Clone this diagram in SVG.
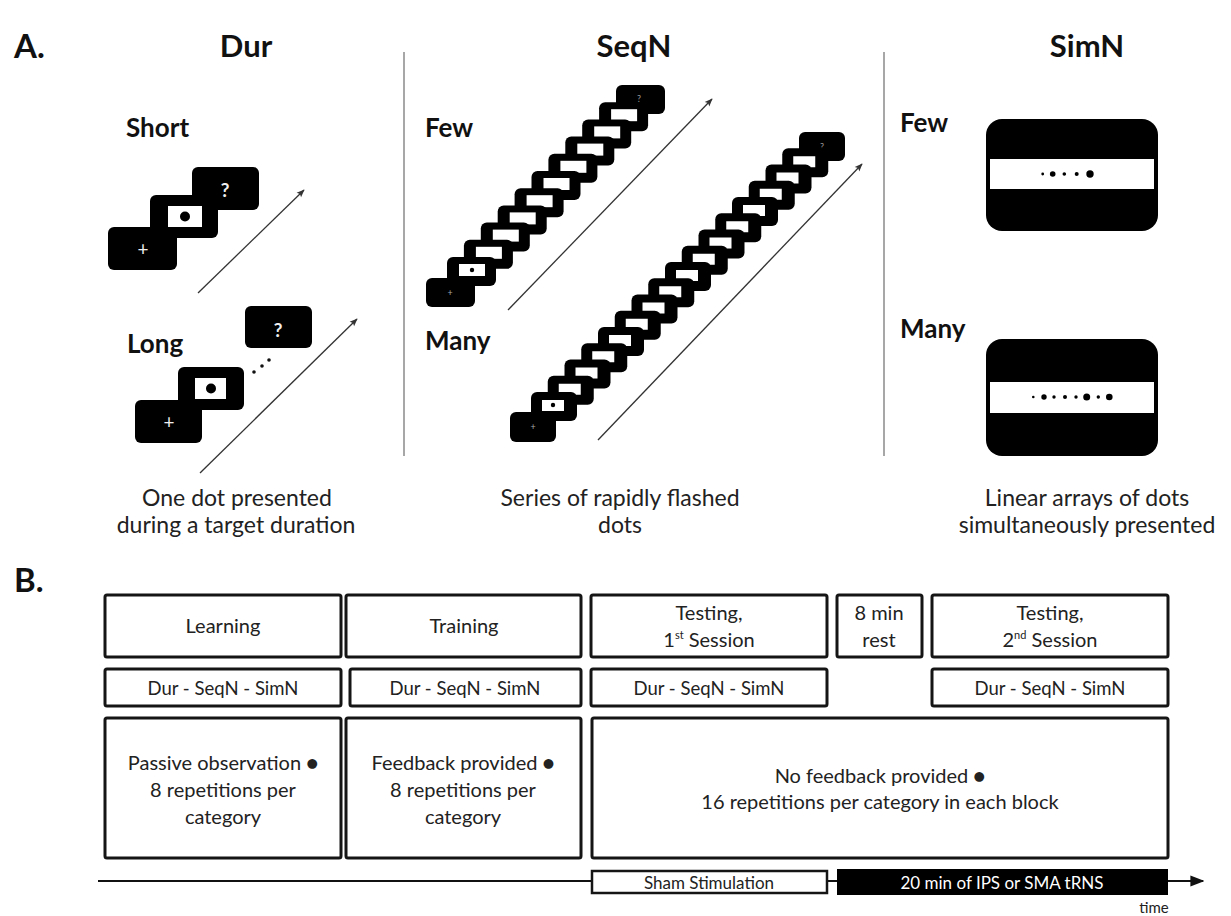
<svg xmlns="http://www.w3.org/2000/svg" xmlns:xlink="http://www.w3.org/1999/xlink" width="1231" height="916" viewBox="0 0 1231 916">
<style>
  .lbl { font-family: Lato, "Liberation Sans", sans-serif; font-weight: bold; fill: #111; }
  .cap { font-family: Lato, "Liberation Sans", sans-serif; font-size: 23px; fill: #222; text-anchor: middle; }
  .bx { fill: #fff; stroke: #151515; stroke-width: 3; }
  .bt { font-family: Lato, "Liberation Sans", sans-serif; font-size: 20px; fill: #222; text-anchor: middle; }
  .bs { font-family: Lato, "Liberation Sans", sans-serif; font-size: 18.5px; fill: #222; text-anchor: middle; }
  .div { stroke: #8a8a8a; stroke-width: 1.5; }
  .arr { stroke: #333; stroke-width: 1.3; fill: none; marker-end: url(#ah); }
  .scr { fill: #000; }
</style>
<defs>
  <marker id="ah" viewBox="0 0 10 10" refX="9" refY="5" markerWidth="8" markerHeight="8" markerUnits="userSpaceOnUse" orient="auto">
    <path d="M0,1 L10,5 L0,9 L2,5 Z" fill="#333"/>
  </marker>
  <marker id="ta" viewBox="0 0 10 10" refX="9" refY="5" markerWidth="14" markerHeight="14" markerUnits="userSpaceOnUse" orient="auto">
    <path d="M0,1 L10,5 L0,9 Z" fill="#111"/>
  </marker>
  <g id="fb"><rect width="49" height="29" rx="6" fill="#000"/><rect x="12" y="7" width="26" height="12" fill="#fff"/></g>
  <g id="mb"><rect width="46" height="29" rx="6" fill="#000"/><rect x="11" y="8" width="22" height="11" fill="#fff"/></g>
</defs>

<!-- Panel A headings -->
<g id="headings">
  <text class="lbl" x="14" y="58" font-size="33">A.</text>
  <text class="lbl" x="246" y="57" font-size="31" text-anchor="middle">Dur</text>
  <text class="lbl" x="634" y="57" font-size="31" text-anchor="middle">SeqN</text>
  <text class="lbl" x="1087" y="57" font-size="31" text-anchor="middle">SimN</text>
  <text class="lbl" x="14" y="592" font-size="33">B.</text>
</g>

<g id="dividers">
  <line class="div" x1="404" y1="52" x2="404" y2="456"/>
  <line class="div" x1="884" y1="52" x2="884" y2="456"/>
</g>

<!-- Dur short -->
<g id="dur-short">
  <text class="lbl" x="126" y="137" font-size="26">Short</text>
  <rect class="scr" x="192" y="167" width="67" height="43" rx="6"/>
  <text x="225" y="197" font-family="Lato, 'Liberation Sans', sans-serif" font-size="19" font-weight="bold" fill="#eee" text-anchor="middle">?</text>
  <rect class="scr" x="150" y="195" width="68" height="43" rx="6"/>
  <rect x="168" y="206" width="34" height="21" fill="#fff"/>
  <circle cx="185" cy="216.5" r="5" fill="#000"/>
  <rect class="scr" x="108" y="227" width="69" height="43" rx="6"/>
  <text x="143" y="256" font-family="Lato, 'Liberation Sans', sans-serif" font-size="19" fill="#eee" text-anchor="middle">+</text>
</g>

<!-- Dur long -->
<g id="dur-long">
  <text class="lbl" x="127" y="353" font-size="26">Long</text>
  <rect class="scr" x="245" y="306" width="67" height="42" rx="6"/>
  <text x="278" y="337" font-family="Lato, 'Liberation Sans', sans-serif" font-size="19" font-weight="bold" fill="#eee" text-anchor="middle">?</text>
  <circle cx="254" cy="372" r="1.8" fill="#111"/>
  <circle cx="262" cy="366" r="1.8" fill="#111"/>
  <circle cx="269" cy="360" r="1.8" fill="#111"/>
  <rect class="scr" x="178" y="367" width="66" height="43" rx="6"/>
  <rect x="195" y="378" width="31" height="21" fill="#fff"/>
  <circle cx="211" cy="388.5" r="5" fill="#000"/>
  <rect class="scr" x="135" y="400" width="67" height="43" rx="6"/>
  <text x="169" y="429" font-family="Lato, 'Liberation Sans', sans-serif" font-size="19" fill="#eee" text-anchor="middle">+</text>
</g>

<!-- SeqN few -->
<g id="seqn-few">
  <text class="lbl" x="425" y="137" font-size="26">Few</text>
  <rect x="616" y="85" width="49" height="29" rx="6" fill="#000"/>
  <text x="639" y="102" font-family="Lato, 'Liberation Sans', sans-serif" font-size="9" fill="#999" text-anchor="middle">?</text>
  <use xlink:href="#fb" x="599.1" y="102.2"/>
  <use xlink:href="#fb" x="582.2" y="119.4"/>
  <use xlink:href="#fb" x="565.3" y="136.6"/>
  <use xlink:href="#fb" x="548.4" y="153.8"/>
  <use xlink:href="#fb" x="531.5" y="171"/>
  <use xlink:href="#fb" x="514.6" y="188.2"/>
  <use xlink:href="#fb" x="497.7" y="205.4"/>
  <use xlink:href="#fb" x="480.8" y="222.6"/>
  <use xlink:href="#fb" x="463.9" y="239.8"/>
  <use xlink:href="#fb" x="447" y="257"/>
  <circle cx="472" cy="270" r="2.2" fill="#000"/>
  <rect x="426" y="278" width="49" height="29" rx="6" fill="#000"/>
  <text x="450" y="296" font-family="Lato, 'Liberation Sans', sans-serif" font-size="9" fill="#aaa" text-anchor="middle">+</text>
</g>

<!-- SeqN many -->
<g id="seqn-many">
  <text class="lbl" x="425" y="350" font-size="26">Many</text>
  <rect x="799" y="132" width="46" height="29" rx="6" fill="#000"/>
  <text x="822" y="150" font-family="Lato, 'Liberation Sans', sans-serif" font-size="9" fill="#999" text-anchor="middle">?</text>
  <use xlink:href="#mb" x="782.25" y="148.25"/>
  <use xlink:href="#mb" x="765.5" y="164.5"/>
  <use xlink:href="#mb" x="748.75" y="180.75"/>
  <use xlink:href="#mb" x="732" y="197"/>
  <use xlink:href="#mb" x="715.25" y="213.25"/>
  <use xlink:href="#mb" x="698.5" y="229.5"/>
  <use xlink:href="#mb" x="681.75" y="245.75"/>
  <use xlink:href="#mb" x="665" y="262"/>
  <use xlink:href="#mb" x="648.25" y="278.25"/>
  <use xlink:href="#mb" x="631.5" y="294.5"/>
  <use xlink:href="#mb" x="614.75" y="310.75"/>
  <use xlink:href="#mb" x="598" y="327"/>
  <use xlink:href="#mb" x="581.25" y="343.25"/>
  <use xlink:href="#mb" x="564.5" y="359.5"/>
  <use xlink:href="#mb" x="547.75" y="375.75"/>
  <use xlink:href="#mb" x="531" y="392"/>
  <circle cx="553" cy="405" r="2.2" fill="#000"/>
  <rect x="510" y="412" width="46" height="30" rx="6" fill="#000"/>
  <text x="533" y="430" font-family="Lato, 'Liberation Sans', sans-serif" font-size="9" fill="#aaa" text-anchor="middle">+</text>
</g>

<!-- SimN -->
<g id="simn-few">
  <text class="lbl" x="900" y="132" font-size="26">Few</text>
  <rect x="986" y="119" width="172" height="112" rx="16" fill="#000"/>
  <rect x="990" y="159" width="164" height="30" fill="#fff"/>
  <circle cx="1042.7" cy="174" r="1.4" fill="#000"/>
  <circle cx="1052.7" cy="174" r="2.8" fill="#000"/>
  <circle cx="1064.3" cy="174" r="1.8" fill="#000"/>
  <circle cx="1076.7" cy="174" r="2" fill="#000"/>
  <circle cx="1090" cy="174" r="3.7" fill="#000"/>
</g>
<g id="simn-many">
  <text class="lbl" x="900" y="338" font-size="26">Many</text>
  <rect x="986" y="339" width="172" height="117" rx="16" fill="#000"/>
  <rect x="990" y="382" width="164" height="31" fill="#fff"/>
  <circle cx="1033.3" cy="397" r="1.3" fill="#000"/>
  <circle cx="1044" cy="397" r="2.7" fill="#000"/>
  <circle cx="1054" cy="397" r="1.7" fill="#000"/>
  <circle cx="1065" cy="397" r="2" fill="#000"/>
  <circle cx="1076" cy="397" r="1.7" fill="#000"/>
  <circle cx="1086.7" cy="397" r="3.5" fill="#000"/>
  <circle cx="1098.3" cy="397" r="1.7" fill="#000"/>
  <circle cx="1109.3" cy="397" r="3.3" fill="#000"/>
</g>

<!-- Arrows (connectors) -->
<g id="connectors">
  <line class="arr" x1="198" y1="293" x2="304" y2="190"/>
  <line class="arr" x1="200" y1="473" x2="357" y2="319"/>
  <line class="arr" x1="508" y1="310" x2="712" y2="99"/>
  <line class="arr" x1="598" y1="440" x2="862" y2="164"/>
  <line x1="98" y1="881" x2="1203" y2="881" stroke="#111" stroke-width="2" marker-end="url(#ta)"/>
</g>

<!-- Captions -->
<g id="captions">
  <text class="cap" x="237" y="506">One dot presented</text>
  <text class="cap" x="236" y="533">during a target duration</text>
  <text class="cap" x="620" y="506">Series of rapidly flashed</text>
  <text class="cap" x="620" y="533">dots</text>
  <text class="cap" x="1087" y="506">Linear arrays of dots</text>
  <text class="cap" x="1087" y="533">simultaneously  presented</text>
</g>

<!-- Panel B -->
<g id="learning">
  <rect class="bx" x="105" y="595" width="236" height="62" rx="2"/>
  <text class="bt" x="223" y="633">Learning</text>
  <rect class="bx" x="105" y="669" width="236" height="37" rx="2"/>
  <text class="bs" x="223" y="695">Dur - SeqN - SimN</text>
  <rect class="bx" x="105" y="718" width="236" height="140" rx="2"/>
  <text class="bt" x="223" y="770">Passive observation ●</text>
  <text class="bt" x="223" y="797">8 repetitions per</text>
  <text class="bt" x="223" y="824">category</text>
</g>
<g id="training">
  <rect class="bx" x="346" y="595" width="235" height="62" rx="2"/>
  <text class="bt" x="464" y="633">Training</text>
  <rect class="bx" x="350" y="669" width="231" height="37" rx="2"/>
  <text class="bs" x="465" y="695">Dur - SeqN - SimN</text>
  <rect class="bx" x="346" y="718" width="235" height="140" rx="2"/>
  <text class="bt" x="463" y="770">Feedback provided ●</text>
  <text class="bt" x="463" y="797">8 repetitions per</text>
  <text class="bt" x="463" y="824">category</text>
</g>
<g id="testing1">
  <rect class="bx" x="591" y="595" width="236" height="62" rx="2"/>
  <text class="bt" x="709" y="620">Testing,</text>
  <text class="bt" x="709" y="647">1<tspan font-size="11" dy="-8">st</tspan><tspan dy="8"> Session</tspan></text>
  <rect class="bx" x="591" y="669" width="236" height="37" rx="2"/>
  <text class="bs" x="709" y="695">Dur - SeqN - SimN</text>
</g>
<g id="rest">
  <rect class="bx" x="837" y="595" width="85" height="62" rx="2"/>
  <text class="bt" x="879" y="620">8 min</text>
  <text class="bt" x="879" y="647">rest</text>
</g>
<g id="testing2">
  <rect class="bx" x="932" y="595" width="236" height="62" rx="2"/>
  <text class="bt" x="1050" y="620">Testing,</text>
  <text class="bt" x="1050" y="647">2<tspan font-size="11" dy="-8">nd</tspan><tspan dy="8"> Session</tspan></text>
  <rect class="bx" x="932" y="669" width="236" height="37" rx="2"/>
  <text class="bs" x="1050" y="695">Dur - SeqN - SimN</text>
</g>
<g id="testing-block">
  <rect class="bx" x="592" y="718" width="576" height="140" rx="2"/>
  <text class="bt" x="880" y="783">No feedback provided ●</text>
  <text class="bt" x="880" y="809">16 repetitions per category in each block</text>
</g>
<g id="sham">
  <rect x="592" y="871" width="235" height="22" fill="#fff" stroke="#151515" stroke-width="2.5"/>
  <text x="709" y="889" font-family="Lato, 'Liberation Sans', sans-serif" font-size="17" fill="#222" text-anchor="middle">Sham Stimulation</text>
</g>
<g id="trns">
  <rect x="837" y="869" width="331" height="26" fill="#000"/>
  <text x="1002" y="889" font-family="Lato, 'Liberation Sans', sans-serif" font-size="17" fill="#fff" text-anchor="middle">20 min of IPS or SMA tRNS</text>
</g>
<text x="1154" y="913" font-family="Lato, 'Liberation Sans', sans-serif" font-size="15" fill="#222" text-anchor="middle">time</text>
</svg>
